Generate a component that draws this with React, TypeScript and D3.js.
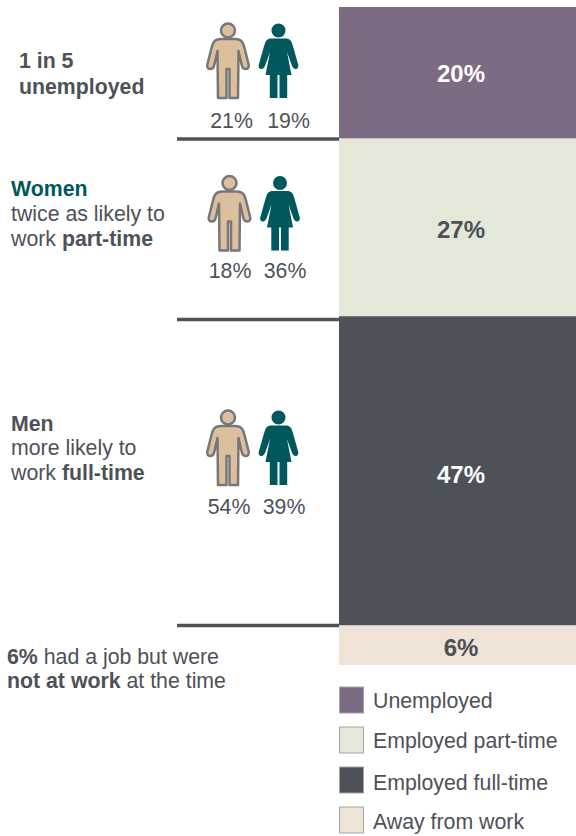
import React from "react";
import * as d3 from "d3";

// Labour-force status shares, top to bottom of the stacked column
const categories = ["Unemployed", "Employed part-time", "Employed full-time", "Away from work"];
const shares = [20, 27, 47, 6];
const fills = ["#7d6a83", "#e3e8d9", "#4d5158", "#eee3d6"];
const shareColors = ["#ffffff", "#4d5158", "#ffffff", "#4d5158"];

// Gender split per status
const menShares = [21, 18, 54];
const womenShares = [19, 36, 39];

const INK = "#4d5158";
const TEAL = "#00585c";
const TAN = "#dcbf9d";
const FONT = "'Liberation Sans', Arial, sans-serif";
const BODY_SIZE = 21.3;

const MAN_BODY =
  "M-7,16 C-10,16 -13,17 -14.5,19.5 C-15.5,21 -16,23 -16.5,25 L-20.5,41 C-21.5,44 -20,46 -18,46 C-16,46 -14.5,45 -14,43 L-10.5,28 L-10,75 L-1.5,75 L-1.5,46 L1.5,46 L1.5,75 L10,75 L10.5,28 L14,43 C14.5,45 16,46 18,46 C20,46 21.5,44 20.5,41 L16.5,25 C16,23 15.5,21 14.5,19.5 C13,17 10,16 7,16 Z";
const WOMAN_BODY =
  "M-7,15.5 C-9,15.5 -11,16 -12.5,18 C-13.5,19.5 -14,22 -15,25 L-19.5,41 C-20.5,44 -19,46 -17,46 C-15.5,46 -14.5,45 -13.5,43 L-8.5,29 L-13,52 L-8.7,52 L-8.7,75 L-1,75 L-1,52 L1,52 L1,75 L8.7,75 L8.7,52 L13,52 L8.5,29 L13.5,43 C14.5,45 15.5,46 17,46 C19,46 20.5,44 19.5,41 L15,25 C14,22 13.5,19.5 12.5,18 C11,16 9,15.5 7,15.5 Z";

function Man({ x, y }: { x: number; y: number }) {
  return (
    <g transform={`translate(${x},${y})`} fill={TAN} stroke="#77777a" strokeWidth={2.5} strokeLinejoin="round">
      <circle cx={0} cy={7.5} r={7} />
      <path d={MAN_BODY} />
    </g>
  );
}

function Woman({ x, y }: { x: number; y: number }) {
  return (
    <g transform={`translate(${x},${y})`} fill={TEAL}>
      <circle cx={0} cy={7.5} r={7} />
      <path d={WOMAN_BODY} />
    </g>
  );
}

export default function App() {
  const y = d3.scaleLinear().domain([0, 100]).range([7, 665]);
  const stack = d3.cumsum(shares);
  const barX = 339;
  const barW = 237;

  const figures = [
    { manX: 228, womanX: 278.5, top: 23, textY: 128, manText: 231.5, womanText: 288.5 },
    { manX: 229.5, womanX: 280, top: 175.5, textY: 278, manText: 230, womanText: 285 },
    { manX: 228, womanX: 278.5, top: 410, textY: 514, manText: 229, womanText: 284 },
  ];
  const rules = [139, 319.5, 625.5];
  const shareLabelY = [82, 238, 483, 656];
  const legendY = [700, 740, 780, 820];
  const legendTextY = [708, 748, 790, 829];

  return (
    <svg
      width={576}
      height={836}
      style={{ position: "absolute", left: 0, top: 0, display: "block" }}
      fontFamily={FONT}
      fill={INK}
    >
      {rules.map((r) => (
        <line key={r} x1={177} x2={barX} y1={r} y2={r} stroke={INK} strokeWidth={3.5} />
      ))}

      {shares.map((s, i) => {
        const y0 = y(i === 0 ? 0 : stack[i - 1]);
        const y1 = y(stack[i]);
        return (
          <g key={categories[i]}>
            <rect x={barX} y={y0} width={barW} height={y1 - y0} fill={fills[i]} />
            <text
              x={barX + barW / 2 + 3.5}
              y={shareLabelY[i]}
              textAnchor="middle"
              fontSize={24}
              fontWeight={700}
              fill={shareColors[i]}
            >
              {s}%
            </text>
          </g>
        );
      })}

      {figures.map((f, i) => (
        <g key={i}>
          <Man x={f.manX} y={f.top} />
          <Woman x={f.womanX} y={f.top} />
          <text x={f.manText} y={f.textY} textAnchor="middle" fontSize={BODY_SIZE}>
            {menShares[i]}%
          </text>
          <text x={f.womanText} y={f.textY} textAnchor="middle" fontSize={BODY_SIZE}>
            {womenShares[i]}%
          </text>
        </g>
      ))}

      <g fontSize={BODY_SIZE}>
        <text x={19} y={68} fontWeight={700}>1 in 5</text>
        <text x={19} y={94} fontWeight={700}>unemployed</text>

        <text x={11} y={196} fontWeight={700} fill={TEAL}>Women</text>
        <text x={11} y={221}>twice as likely to</text>
        <text x={11} y={246}>work <tspan fontWeight={700}>part-time</tspan></text>

        <text x={11} y={431} fontWeight={700}>Men</text>
        <text x={11} y={455}>more likely to</text>
        <text x={11} y={480}>work <tspan fontWeight={700}>full-time</tspan></text>

        <text x={7} y={664}><tspan fontWeight={700}>6%</tspan> had a job but were</text>
        <text x={7} y={688}><tspan fontWeight={700}>not at work</tspan> at the time</text>
      </g>

      {categories.map((c, i) => (
        <g key={c}>
          <rect
            x={339.5}
            y={legendY[i] - 13}
            width={24}
            height={26}
            fill={fills[i]}
            stroke="#a5a5a5"
            strokeWidth={1}
          />
          <text x={373} y={legendTextY[i]} fontSize={BODY_SIZE}>{c}</text>
        </g>
      ))}
    </svg>
  );
}
